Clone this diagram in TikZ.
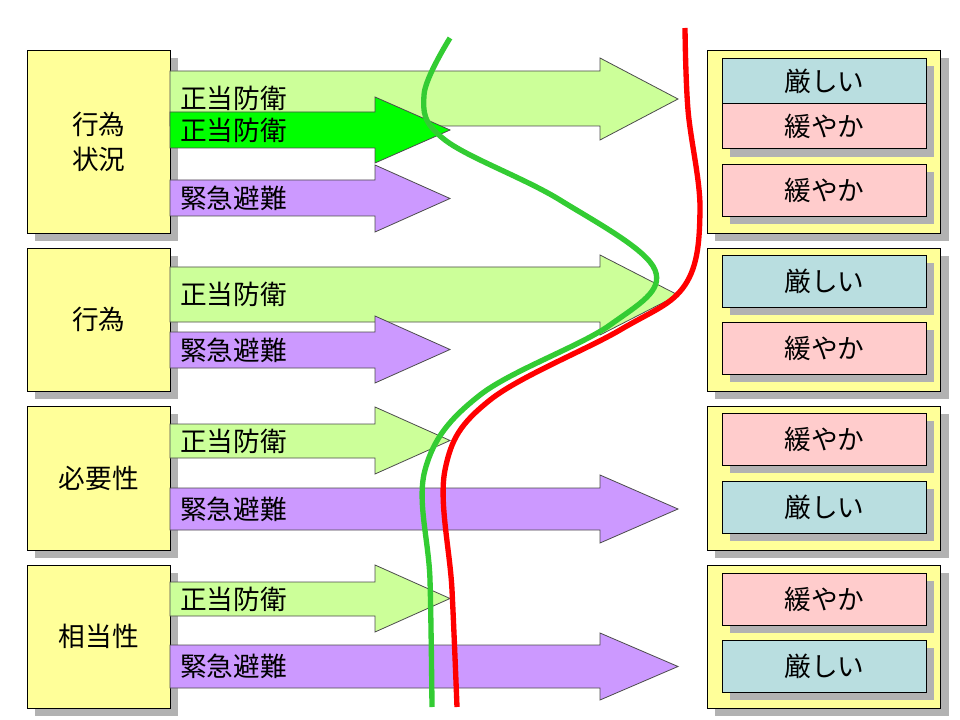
\documentclass[tikz,border=0pt]{standalone}
\usepackage{fontspec}
\setmainfont{Noto Sans CJK JP}
\usetikzlibrary{shadows}
\definecolor{boxyellow}{HTML}{FFFF99}
\definecolor{lightgreen}{HTML}{CCFF99}
\definecolor{brightgreen}{HTML}{00FF00}
\definecolor{lilac}{HTML}{CC99FF}
\definecolor{strictblue}{HTML}{B9DEE0}
\definecolor{mildpink}{HTML}{FFCCCC}
\definecolor{curvegreen}{HTML}{33CC33}

% block arrow: top, bottom of shaft, top, bottom of head, tip x, colour, label
\newcommand{\blockarrow}[7]{%
  \draw[fill=#6, draw=black!70, line width=0.6pt]
    (170,#1) -- (600,#1) -- (600,#3) -- (#5,{(#3+#4)/2}) -- (600,#4) -- (600,#2) -- (170,#2) -- cycle;
  \node[arrowtext] at (180,{(#1+#2)/2}) {#7};}
\newcommand{\blockarrowshort}[7]{%
  \draw[fill=#6, draw=black!70, line width=0.6pt]
    (170,#1) -- (375,#1) -- (375,#3) -- (#5,{(#3+#4)/2}) -- (375,#4) -- (375,#2) -- (170,#2) -- cycle;
  \node[arrowtext] at (180,{(#1+#2)/2}) {#7};}

\begin{document}
\begin{tikzpicture}[x=0.75pt, y=-0.75pt,
  shadowed/.style={draw=black, line width=0.6pt, drop shadow={shadow xshift=6pt, shadow yshift=-6pt, fill=black!30, opacity=1}},
  situation/.style={shadowed, fill=boxyellow, minimum width=107pt, minimum height=#1, align=center, font=\fontsize{20}{26}\selectfont, anchor=north west},
  frame/.style={shadowed, fill=boxyellow, minimum width=175pt, minimum height=#1, anchor=north west},
  verdict/.style={shadowed, fill=#1, minimum width=153pt, minimum height=39pt, font=\fontsize{20}{24}\selectfont, anchor=north west},
  arrowtext/.style={anchor=west, font=\fontsize{20}{24}\selectfont, inner sep=0pt}
  ]
\useasboundingbox (0,0) rectangle (960,720);

% left boxes
\node[situation=137pt] (act) at (27,50) {行為\\状況};
\node[situation=107pt] (deed) at (27,248) {行為};
\node[situation=108pt] (need) at (27,406) {必要性};
\node[situation=107pt] (balance) at (27,565) {相当性};

% right frames
\node[frame=137pt] (f1) at (707,50) {};
\node[frame=107pt] (f2) at (707,248) {};
\node[frame=108pt] (f3) at (707,406) {};
\node[frame=107pt] (f4) at (707,565) {};

% verdicts
\node[verdict=strictblue, minimum height=34pt] (v11) at (722,58) {厳しい};
\node[verdict=mildpink, minimum height=34pt] (v12) at (722,103) {緩やか};
\node[verdict=mildpink] (v13) at (722,164) {緩やか};
\node[verdict=strictblue] (v21) at (722,255) {厳しい};
\node[verdict=mildpink] (v22) at (722,322) {緩やか};
\node[verdict=mildpink] (v31) at (722,413) {緩やか};
\node[verdict=strictblue] (v32) at (722,481) {厳しい};
\node[verdict=mildpink] (v41) at (722,573) {緩やか};
\node[verdict=strictblue] (v42) at (722,640) {厳しい};

% arrows
\blockarrow{71}{126}{58}{140}{678}{lightgreen}{正当防衛}
\blockarrowshort{112}{148}{97}{163}{450}{brightgreen}{正当防衛}
\blockarrowshort{180}{216}{165}{232}{450}{lilac}{緊急避難}
\blockarrow{267}{322}{255}{335}{678}{lightgreen}{正当防衛}
\blockarrowshort{332}{368}{316}{383}{450}{lilac}{緊急避難}
\blockarrowshort{424}{458}{407}{474}{450}{lightgreen}{正当防衛}
\blockarrow{488}{530}{475}{543}{678}{lilac}{緊急避難}
\blockarrowshort{582}{616}{565}{632}{450}{lightgreen}{正当防衛}
\blockarrow{645}{688}{633}{700}{678}{lilac}{緊急避難}

% curves
\draw[curvegreen, line width=4pt] plot[smooth, tension=0.6] coordinates
  {(450,38) (424,95) (445,140) (560,200) (655,270) (610,325) (480,395) (425,470) (430,580) (432,707)};
\draw[red, line width=4pt] plot[smooth, tension=0.6] coordinates
  {(685,28) (688,110) (700,210) (685,285) (620,330) (490,400) (445,470) (452,590) (457,707)};
\end{tikzpicture}
\end{document}
